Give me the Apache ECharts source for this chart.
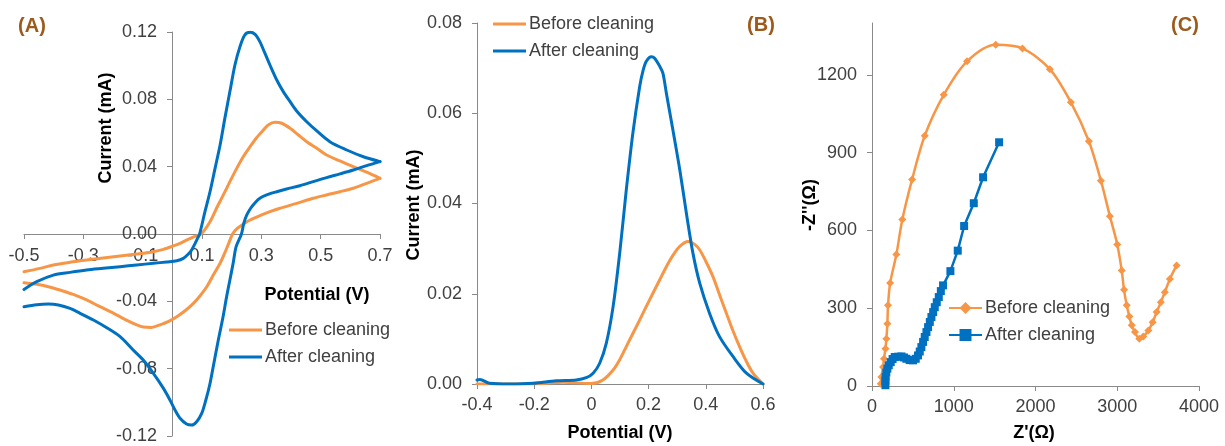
<!DOCTYPE html>
<html>
<head>
<meta charset="utf-8">
<script src="https://cdn.jsdelivr.net/npm/echarts@6/dist/echarts.min.js"></script>
<style>
  html, body { margin: 0; padding: 0; background: #fff; }
  #chart { width: 1225px; height: 446px; }
</style>
</head>
<body>
<div id="chart"></div>
<script>
// ---------- (A) Cyclic voltammetry: [potential V, current mA] ----------
const cvTicksX = [-0.5, -0.3, -0.1, 0.1, 0.3, 0.5, 0.7];
const cvTicksY = [-0.12, -0.08, -0.04, 0, 0.04, 0.08, 0.12];

const cvBeforeForward = [
  [-0.5, -0.0224], [-0.446, -0.0204], [-0.401, -0.0184], [-0.345, -0.0168],
  [-0.289, -0.0155], [-0.233, -0.0143], [-0.176, -0.0131], [-0.12, -0.0119],
  [-0.064, -0.0105], [-0.03, -0.0091], [0.003, -0.0071], [0.026, -0.0055],
  [0.048, -0.0036], [0.07, -0.0018], [0.097, 0.0], [0.127, 0.0073],
  [0.149, 0.0153], [0.172, 0.0232], [0.194, 0.0311], [0.217, 0.039],
  [0.239, 0.0459], [0.262, 0.0519], [0.284, 0.0572], [0.307, 0.0618],
  [0.323, 0.0648], [0.346, 0.0664], [0.369, 0.0658], [0.397, 0.0628],
  [0.425, 0.0588], [0.453, 0.0548], [0.487, 0.0509], [0.52, 0.0469],
  [0.565, 0.0434], [0.61, 0.04], [0.655, 0.0367], [0.7, 0.0331]
];
const cvBeforeReverse = [
  [0.7, 0.0331], [0.655, 0.0301], [0.61, 0.0272], [0.565, 0.0251],
  [0.52, 0.0232], [0.475, 0.0212], [0.419, 0.0182], [0.363, 0.0153],
  [0.329, 0.0133], [0.295, 0.0109], [0.262, 0.0083], [0.239, 0.0058],
  [0.217, 0.003], [0.203, 0.0], [0.189, -0.006], [0.175, -0.012],
  [0.161, -0.0174], [0.138, -0.0244], [0.116, -0.0313], [0.093, -0.0368],
  [0.071, -0.0412], [0.043, -0.0456], [0.015, -0.0491], [-0.014, -0.0521],
  [-0.042, -0.054], [-0.07, -0.0555], [-0.098, -0.0553], [-0.12, -0.054],
  [-0.16, -0.0507], [-0.199, -0.047], [-0.244, -0.0432], [-0.289, -0.0392],
  [-0.334, -0.0359], [-0.379, -0.0333], [-0.418, -0.0313], [-0.457, -0.0299],
  [-0.5, -0.029]
];
const cvAfterForward = [
  [-0.5, -0.0329], [-0.457, -0.0283], [-0.401, -0.0244], [-0.345, -0.0228],
  [-0.289, -0.0214], [-0.233, -0.0204], [-0.176, -0.0194], [-0.12, -0.0184],
  [-0.064, -0.0174], [-0.019, -0.0166], [0.015, -0.0159], [0.037, -0.0145],
  [0.054, -0.0119], [0.065, -0.0095], [0.076, -0.0059], [0.085, -0.0026],
  [0.092, 0.0], [0.11, 0.0133], [0.127, 0.0251], [0.144, 0.039],
  [0.161, 0.0529], [0.177, 0.0687], [0.194, 0.0846], [0.211, 0.1004],
  [0.228, 0.1113], [0.244, 0.1182], [0.262, 0.1198], [0.279, 0.1186],
  [0.295, 0.1143], [0.312, 0.1074], [0.329, 0.1004], [0.352, 0.0915],
  [0.374, 0.0846], [0.397, 0.0786], [0.419, 0.0731], [0.453, 0.0667],
  [0.487, 0.0612], [0.531, 0.0548], [0.588, 0.0499], [0.644, 0.0459],
  [0.7, 0.043]
];
const cvAfterReverse = [
  [0.7, 0.043], [0.655, 0.0406], [0.61, 0.038], [0.565, 0.0357],
  [0.52, 0.0335], [0.475, 0.0311], [0.43, 0.0287], [0.385, 0.0267],
  [0.352, 0.0251], [0.318, 0.0232], [0.295, 0.0212], [0.279, 0.0186],
  [0.264, 0.0153], [0.251, 0.0113], [0.241, 0.0064], [0.233, 0.0],
  [0.215, -0.0075], [0.205, -0.0174], [0.194, -0.0273], [0.183, -0.0372],
  [0.17, -0.0501], [0.155, -0.063], [0.141, -0.0759], [0.127, -0.0888],
  [0.113, -0.0986], [0.099, -0.1066], [0.082, -0.1115], [0.065, -0.1135],
  [0.048, -0.1129], [0.026, -0.1095], [0.009, -0.1046], [-0.008, -0.0986],
  [-0.03, -0.0917], [-0.064, -0.0828], [-0.098, -0.0749], [-0.132, -0.0689],
  [-0.176, -0.061], [-0.221, -0.0557], [-0.266, -0.0511], [-0.311, -0.0471],
  [-0.345, -0.0442], [-0.384, -0.0422], [-0.418, -0.0416], [-0.457, -0.042],
  [-0.5, -0.0432]
];

// ---------- (B) Differential pulse voltammetry ----------
const dpvTicksX = [-0.4, -0.2, 0, 0.2, 0.4, 0.6];
const dpvTicksY = [0, 0.02, 0.04, 0.06, 0.08];

const dpvBefore = [
  [-0.4, 0], [-0.2, 0], [-0.1, 0.0004], [0.0, 0.0001], [0.04, 0.0009],
  [0.076, 0.0031], [0.1, 0.0055], [0.122, 0.0083], [0.145, 0.0112],
  [0.169, 0.0142], [0.192, 0.0172], [0.215, 0.0201], [0.239, 0.0231],
  [0.262, 0.026], [0.285, 0.0285], [0.309, 0.0305], [0.338, 0.0316],
  [0.36, 0.031], [0.379, 0.0297], [0.4, 0.0272], [0.425, 0.0238],
  [0.448, 0.0198], [0.472, 0.0157], [0.495, 0.0118], [0.518, 0.0083],
  [0.542, 0.005], [0.565, 0.0024], [0.6, 0]
];
const dpvAfter = [
  [-0.4, 0.0009], [-0.39, 0.001], [-0.356, 0.00015], [-0.286, 0],
  [-0.204, 0.00015], [-0.123, 0.0007], [-0.053, 0.0009], [-0.018, 0.0014],
  [0.006, 0.0024], [0.029, 0.0046], [0.052, 0.009], [0.076, 0.0172],
  [0.099, 0.029], [0.122, 0.043], [0.145, 0.0556], [0.169, 0.066],
  [0.18, 0.0693], [0.192, 0.0715], [0.21, 0.0725], [0.221, 0.0722],
  [0.239, 0.0704], [0.25, 0.0689], [0.262, 0.0645], [0.285, 0.0563],
  [0.309, 0.0475], [0.332, 0.0379], [0.355, 0.029], [0.379, 0.0223],
  [0.413, 0.0157], [0.448, 0.0105], [0.495, 0.0061], [0.542, 0.0024],
  [0.6, 0]
];

// ---------- (C) Nyquist plot: [Z' ohm, -Z'' ohm] ----------
const eisTicksX = [0, 1000, 2000, 3000, 4000];
const eisTicksY = [0, 300, 600, 900, 1200];

const eisBefore = [
  [107, 9], [115, 35], [135, 73], [147, 105], [164, 144], [176, 182],
  [188, 240], [196, 311], [222, 397], [298, 507], [371, 642], [490, 796],
  [645, 965], [878, 1123], [1163, 1252], [1514, 1316], [1841, 1302],
  [2176, 1222], [2433, 1094], [2653, 944], [2800, 792], [2910, 655],
  [3000, 546], [3055, 445], [3083, 371], [3116, 311], [3148, 268],
  [3177, 234], [3217, 208], [3270, 182], [3318, 191], [3380, 214],
  [3433, 246], [3482, 285], [3533, 323], [3582, 362], [3644, 413],
  [3726, 465]
];
const eisAfter = [
  [164, 3], [164, 20], [166, 35], [175, 52], [188, 67], [205, 80],
  [229, 92], [252, 104], [278, 112], [320, 113], [360, 114], [392, 110],
  [421, 105], [460, 100], [502, 99], [535, 105], [563, 118], [584, 133],
  [604, 150], [625, 170], [645, 189], [666, 208], [686, 227], [707, 247],
  [727, 266], [748, 285], [768, 304], [792, 323], [817, 343], [842, 366],
  [869, 388], [959, 443], [1049, 522], [1127, 617], [1245, 705],
  [1359, 805], [1555, 940]
];

// ---------- styling ----------
const FONT = '"Liberation Sans", Arial, sans-serif';
const ORANGE = '#F79646';
const BLUE = '#0070C0';
const AXIS_GREY = '#898989';
const LABEL_GREY = '#404040';
const TAG_BROWN = '#9C5A1C';

const legendText = {
  cvBeforeForward: 'Before cleaning', cvAfterForward: 'After cleaning',
  dpvBefore: 'Before cleaning', dpvAfter: 'After cleaning',
  eisBefore: 'Before cleaning', eisAfter: 'After cleaning'
};

// value axis with explicit tick positions; offset shifts the whole axis
// (line, ticks, labels) so panel A can cross at the origin
function axis(gridIndex, min, max, ticks, fmt, margin, offset) {
  return {
    type: 'value', gridIndex, min, max, offset: offset || 0,
    splitLine: { show: false },
    axisLine: { show: true, onZero: false, lineStyle: { color: AXIS_GREY, width: 1 } },
    axisTick: { show: true, length: 5, customValues: ticks, lineStyle: { color: AXIS_GREY } },
    axisLabel: {
      customValues: ticks, formatter: fmt, margin,
      color: LABEL_GREY, fontSize: 18, fontFamily: FONT
    }
  };
}

function curve(name, data, color, xi) {
  return {
    type: 'line', name, data, xAxisIndex: xi, yAxisIndex: xi,
    smooth: 0.3, symbol: 'none', showSymbol: false,
    lineStyle: { color, width: 3, join: 'round', cap: 'round' }, itemStyle: { color },
    silent: true, animation: false, z: color === BLUE ? 3 : 2
  };
}

function markers(name, data, color, symbol, size, smooth) {
  return {
    type: 'line', name, data, xAxisIndex: 2, yAxisIndex: 2,
    smooth, symbol, symbolSize: size, showSymbol: true, showAllSymbol: true,
    lineStyle: { color, width: 2.5, join: 'round' }, itemStyle: { color },
    silent: true, animation: false
  };
}

function legend(left, top, names, plainLine) {
  const opt = {
    left, top, orient: 'vertical', data: names, selectedMode: false, padding: 0,
    itemWidth: 33, itemHeight: plainLine ? 3 : 15, itemGap: 9,
    formatter: n => legendText[n],
    textStyle: { fontSize: 18, color: LABEL_GREY, fontFamily: FONT, padding: [0, 0, 0, -2] }
  };
  if (plainLine) opt.icon = 'rect';
  return opt;
}

function title(text, x, y, vertical) {
  return {
    type: 'text', x, y, rotation: vertical ? Math.PI / 2 : 0,
    style: { text, fill: '#000', font: 'bold 18px ' + FONT, align: 'center', verticalAlign: 'middle' }
  };
}

function tag(text, x, y) {
  return {
    type: 'text', x, y,
    style: { text, fill: TAG_BROWN, font: 'bold 20px ' + FONT, align: 'center', verticalAlign: 'middle' }
  };
}

const chart = echarts.init(document.getElementById('chart'), null, { renderer: 'canvas' });

chart.setOption({
  animation: false,
  backgroundColor: '#fff',
  grid: [
    { left: 24, top: 32, width: 356, height: 404, containLabel: false, outerBoundsMode: 'none' },
    { left: 477, top: 23, width: 286, height: 361, containLabel: false, outerBoundsMode: 'none' },
    { left: 872, top: 23, width: 327, height: 363, containLabel: false, outerBoundsMode: 'none' }
  ],
  xAxis: [
    // A: moved up from the bottom edge to the zero-current line
    axis(0, -0.5, 0.7, cvTicksX, v => v.toFixed(1), 13, -202),
    axis(1, -0.4, 0.6, dpvTicksX, v => (Math.abs(v) < 1e-9 ? '0' : v.toFixed(1)), 12),
    axis(2, 0, 4000, eisTicksX, v => String(Math.round(v)), 12)
  ],
  yAxis: [
    // A: moved right from the left edge to the zero-potential line
    axis(0, -0.12, 0.12, cvTicksY, v => v.toFixed(2), 15, -148),
    axis(1, 0, 0.08, dpvTicksY, v => v.toFixed(2), 15),
    axis(2, 0, 1400, eisTicksY, v => String(Math.round(v)), 15)
  ],
  legend: [
    legend(229, 321, ['cvBeforeForward', 'cvAfterForward'], true),
    legend(493, 15, ['dpvBefore', 'dpvAfter'], true),
    legend(948, 299, ['eisBefore', 'eisAfter'], false)
  ],
  series: [
    curve('cvBeforeForward', cvBeforeForward, ORANGE, 0),
    curve('cvBeforeReverse', cvBeforeReverse, ORANGE, 0),
    curve('cvAfterForward', cvAfterForward, BLUE, 0),
    curve('cvAfterReverse', cvAfterReverse, BLUE, 0),
    curve('dpvBefore', dpvBefore, ORANGE, 1),
    curve('dpvAfter', dpvAfter, BLUE, 1),
    markers('eisBefore', eisBefore, ORANGE, 'diamond', 8, 0.3),
    markers('eisAfter', eisAfter, BLUE, 'rect', 8, false)
  ],
  graphic: [
    title('Current (mA)', 106, 128, true),
    title('Potential (V)', 317, 295, false),
    title('Current (mA)', 414, 205, true),
    title('Potential (V)', 620, 433, false),
    title("-Z''(\u03A9)", 810, 205, true),
    title("Z'(\u03A9)", 1034, 433, false),
    tag('(A)', 32, 26),
    tag('(B)', 761, 25),
    tag('(C)', 1185, 25)
  ]
});
</script>
</body>
</html>
